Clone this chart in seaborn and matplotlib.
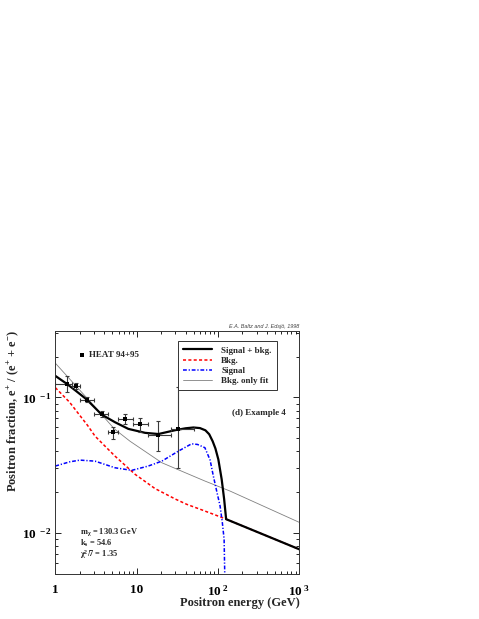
import matplotlib
matplotlib.use("Agg")
import matplotlib.pyplot as plt
import seaborn as sns
import pandas as pd
from matplotlib.ticker import FixedLocator, FixedFormatter, LogLocator, NullFormatter

# HEAT 94+95 measurements (energy bin, fraction, error range)
heat_e = [1.38, 1.78, 2.43, 3.70, 5.17, 7.26, 11.0, 18.3, 31.8]
heat_lo = [1.0, 1.6, 2.0, 3.0, 4.5, 5.96, 8.9, 13.9, 26.5]
heat_hi = [1.6, 2.0, 3.0, 4.5, 5.96, 8.9, 13.9, 26.5, 50.0]
heat_frac = [0.125, 0.121, 0.0962, 0.0756, 0.0555, 0.0695, 0.0636, 0.0532, 0.0586]
heat_up = [0.1426, 0.1275, 0.1007, 0.0790, 0.0600, 0.0750, 0.0710, 0.0667, 0.1184]
heat_dn = [0.1088, 0.1153, 0.0919, 0.0718, 0.0495, 0.0640, 0.0560, 0.0400, 0.0302]

# signal + background
sb_e = [1, 1.38, 1.78, 2.43, 3.0, 3.72, 5.42, 7.9, 12.7, 18.5, 29.7, 40, 50, 60, 70,
        78, 86, 93, 101, 111, 119, 125.9, 1000]
sb_frac = [0.144, 0.126, 0.112, 0.0965, 0.085, 0.0746, 0.0656, 0.0586, 0.0548, 0.0537,
           0.0573, 0.0592, 0.0600, 0.0594, 0.0572, 0.0535, 0.0475, 0.0420, 0.0349,
           0.0249, 0.0178, 0.01267, 0.0076]

# background
bkg_e = [1, 1.5, 1.92, 2.5, 3.08, 5.42, 9.58, 16.8, 30, 41.3, 60.2, 90, 126, 1000]
bkg_frac = [0.118, 0.092, 0.076, 0.062, 0.0518, 0.0369, 0.0271, 0.0213, 0.0178, 0.0163,
            0.0150, 0.0137, 0.01267, 0.0076]

# signal
sig_e = [1, 1.5, 2.01, 3.08, 5.42, 8.7, 13.9, 20.4, 32.6, 47.4, 56, 69, 80, 87.7, 98,
         106, 113, 118.9, 123]
sig_frac = [0.0312, 0.0335, 0.0345, 0.0339, 0.0303, 0.029, 0.0312, 0.0339, 0.0402,
            0.0455, 0.0450, 0.0426, 0.0345, 0.0263, 0.0195, 0.0159, 0.012, 0.00903, 0.003]

# background only fit
fit_e = [1, 2.55, 3.7, 5.33, 8.3, 20.4, 39.4, 69, 141, 1000]
fit_frac = [0.1787, 0.0962, 0.0749, 0.0585, 0.0475, 0.033, 0.0279, 0.0242, 0.0204, 0.012]

sns.set_style("ticks")
plt.rcParams["font.family"] = ["Liberation Serif", "DejaVu Serif"]
plt.rcParams["font.weight"] = "bold"
plt.rcParams["axes.labelweight"] = "bold"
plt.rcParams["mathtext.fontset"] = "custom"
plt.rcParams["mathtext.rm"] = "Liberation Serif:bold"
plt.rcParams["mathtext.bf"] = "Liberation Serif:bold"
plt.rcParams["mathtext.it"] = "Liberation Serif:bold:italic"
plt.rcParams["mathtext.default"] = "bf"

fig = plt.figure(figsize=(4.79, 6.19), dpi=100)
ax = fig.add_axes([0.1155, 0.0727, 0.5094, 0.3931])

fit_df = pd.DataFrame({"E": fit_e, "f": fit_frac})
bkg_df = pd.DataFrame({"E": bkg_e, "f": bkg_frac})
sig_df = pd.DataFrame({"E": sig_e, "f": sig_frac})
sb_df = pd.DataFrame({"E": sb_e, "f": sb_frac})

sns.lineplot(data=fit_df, x="E", y="f", ax=ax, color="#808080", lw=0.6,
             estimator=None, sort=False, label="Bkg. only fit")
sns.lineplot(data=bkg_df, x="E", y="f", ax=ax, color="red", lw=1.1,
             estimator=None, sort=False, label="Bkg.")
sns.lineplot(data=sig_df, x="E", y="f", ax=ax, color="blue", lw=1.1,
             estimator=None, sort=False, label="Signal")
sns.lineplot(data=sb_df, x="E", y="f", ax=ax, color="black", lw=1.6,
             estimator=None, sort=False, label="Signal + bkg.")
lines = ax.get_lines()
lines[1].set_dashes([2, 1.5])
lines[2].set_dashes([2.5, 1.2, 0.8, 1.2])

xerr = [[e - lo for e, lo in zip(heat_e, heat_lo)], [hi - e for e, hi in zip(heat_e, heat_hi)]]
yerr = [[f - d for f, d in zip(heat_frac, heat_dn)], [u - f for f, u in zip(heat_frac, heat_up)]]
ax.errorbar(heat_e, heat_frac, xerr=xerr, yerr=yerr, fmt="none", ecolor="#3a3a3a",
            elinewidth=0.8, capsize=1.5, capthick=0.8)
sns.scatterplot(x=heat_e, y=heat_frac, ax=ax, marker="s", color="black", s=9,
                edgecolor="black", linewidth=0, label="HEAT 94+95", zorder=5)

ax.set_xscale("log")
ax.set_yscale("log")
ax.set_xlim(1, 1000)
ax.set_ylim(0.005, 0.31)

ax.xaxis.set_major_locator(FixedLocator([1, 10, 100, 1000]))
ax.xaxis.set_major_formatter(FixedFormatter(["1", "10", r"$10^{\ 2}$", r"$10^{\ 3}$"]))
ax.xaxis.set_minor_locator(LogLocator(base=10, subs=range(2, 10)))
ax.xaxis.set_minor_formatter(NullFormatter())
ax.yaxis.set_major_locator(FixedLocator([0.01, 0.1]))
ax.yaxis.set_major_formatter(FixedFormatter([r"$10^{\ -2}$", r"$10^{\ -1}$"]))
ax.yaxis.set_minor_locator(LogLocator(base=10, subs=range(2, 10)))
ax.yaxis.set_minor_formatter(NullFormatter())

ax.tick_params(which="both", direction="in", top=True, right=True, width=0.6,
               colors="black", labelsize=9.5)
ax.tick_params(which="major", length=4.5)
ax.tick_params(which="minor", length=2.3)
ax.tick_params(axis="x", which="major", pad=7)
ax.tick_params(axis="y", which="major", pad=2)
for sp in ax.spines.values():
    sp.set_linewidth(0.7)
    sp.set_color("#333333")

ax.set_xlabel("Positron energy (GeV)", fontsize=9, loc="right", fontweight="bold")
ax.xaxis.set_label_coords(1.0, -0.095)
ax.set_ylabel(r"Positron fraction, e$^{+}$ / (e$^{+}$ + e$^{-}$)", fontsize=9, loc="top",
              fontweight="bold")
ax.yaxis.set_label_coords(-0.14, 1.005)

handles, labels = ax.get_legend_handles_labels()
hmap = dict(zip(labels, handles))
order = ["Signal + bkg.", "Bkg.", "Signal", "Bkg. only fit"]
leg = ax.legend([hmap[k] for k in order], order, loc="upper right",
                bbox_to_anchor=(0.925, 0.975), fontsize=6.5, frameon=True,
                fancybox=False, framealpha=1, edgecolor="#333333",
                handlelength=3.2, handletextpad=1.0, labelspacing=0.2, borderpad=0.55)
leg.get_frame().set_linewidth(0.7)
ax.add_artist(leg)
ax.legend([hmap["HEAT 94+95"]], ["HEAT 94+95"], loc="center left",
          bbox_to_anchor=(0.06, 0.901), fontsize=6.5, frameon=False,
          handlelength=0.8, handletextpad=0.4, markerscale=1.0)

ax.text(0.723, 0.660, "(d) Example 4", transform=ax.transAxes, fontsize=6.5, va="center")
ax.text(0.101, 0.174, r"m$_{\chi}$ = 130.3 GeV", transform=ax.transAxes, fontsize=6, va="center")
ax.text(0.101, 0.126, r"k$_{s}$ = 54.6", transform=ax.transAxes, fontsize=6, va="center")
ax.text(0.101, 0.080, r"$\chi^{2}$/7 = 1.35", transform=ax.transAxes, fontsize=6, va="center")

fig.text(299 / 479, 1 - 328 / 619, "E.A. Baltz and J. Edsjö, 1998", ha="right",
         va="baseline", fontsize=4, style="italic", family="Liberation Sans",
         weight="normal", color="#444444")

fig.savefig("out.png", dpi=100)
